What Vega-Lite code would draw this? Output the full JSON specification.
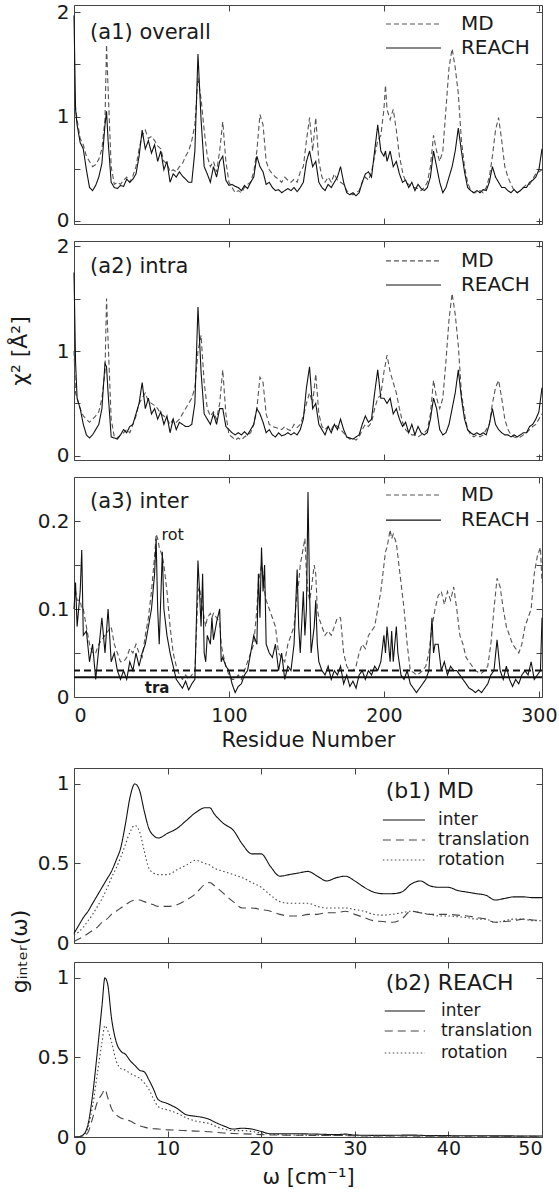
{
"$schema": "https://vega.github.io/schema/vega-lite/v6.json",
"padding": {"left": 7, "top": 1, "right": 0, "bottom": 0},
"config": {
 "font": "DejaVu Sans",
 "view": {"stroke": "#444", "strokeWidth": 1},
 "axis": {"grid": false, "domain": false, "tickSize": -6, "tickColor": "#444", "tickWidth": 1, "labelFont": "DejaVu Sans", "labelFontSize": 20, "labelColor": "#1a1a1a", "labelPadding": 11, "titleFont": "DejaVu Sans", "titleFontSize": 21, "titleFontWeight": "normal", "titleColor": "#1a1a1a"},
 "text": {"font": "DejaVu Sans", "color": "#1a1a1a", "align": "left", "baseline": "middle"}
},
"datasets": {
 "A1": [
{"x":0,"MD":1.07,"REACH":1.97},{"x":1,"MD":1.09,"REACH":1.07},{"x":2,"MD":0.97,"REACH":0.92},{"x":4,"MD":0.79,"REACH":0.75},{"x":6,"MD":0.73,"REACH":0.69},{"x":8,"MD":0.62,"REACH":0.49},{"x":10,"MD":0.57,"REACH":0.32},{"x":12,"MD":0.52,"REACH":0.29},{"x":14,"MD":0.54,"REACH":0.34},{"x":16,"MD":0.59,"REACH":0.42},{"x":18,"MD":0.69,"REACH":0.55},{"x":20,"MD":0.97,"REACH":0.92},{"x":21,"MD":1.69,"REACH":1.05},{"x":22,"MD":1.27,"REACH":0.77},{"x":24,"MD":0.52,"REACH":0.37},{"x":26,"MD":0.35,"REACH":0.32},{"x":28,"MD":0.37,"REACH":0.31},{"x":30,"MD":0.35,"REACH":0.34},{"x":32,"MD":0.39,"REACH":0.33},{"x":34,"MD":0.42,"REACH":0.4},{"x":36,"MD":0.37,"REACH":0.37},{"x":38,"MD":0.43,"REACH":0.4},{"x":40,"MD":0.52,"REACH":0.45},{"x":42,"MD":0.69,"REACH":0.62},{"x":44,"MD":0.82,"REACH":0.87},{"x":46,"MD":0.87,"REACH":0.69},{"x":48,"MD":0.79,"REACH":0.77},{"x":50,"MD":0.81,"REACH":0.65},{"x":52,"MD":0.77,"REACH":0.73},{"x":54,"MD":0.72,"REACH":0.57},{"x":56,"MD":0.69,"REACH":0.67},{"x":58,"MD":0.57,"REACH":0.49},{"x":60,"MD":0.55,"REACH":0.57},{"x":62,"MD":0.47,"REACH":0.37},{"x":64,"MD":0.49,"REACH":0.45},{"x":66,"MD":0.47,"REACH":0.42},{"x":68,"MD":0.52,"REACH":0.47},{"x":70,"MD":0.55,"REACH":0.43},{"x":72,"MD":0.62,"REACH":0.4},{"x":74,"MD":0.67,"REACH":0.37},{"x":76,"MD":0.77,"REACH":0.37},{"x":78,"MD":0.92,"REACH":0.67},{"x":80,"MD":1.37,"REACH":1.6},{"x":82,"MD":1.17,"REACH":0.97},{"x":84,"MD":0.87,"REACH":0.52},{"x":86,"MD":0.62,"REACH":0.45},{"x":88,"MD":0.52,"REACH":0.37},{"x":90,"MD":0.57,"REACH":0.52},{"x":92,"MD":0.47,"REACH":0.42},{"x":94,"MD":0.67,"REACH":0.57},{"x":96,"MD":0.95,"REACH":0.62},{"x":98,"MD":0.57,"REACH":0.39},{"x":100,"MD":0.37,"REACH":0.34},{"x":102,"MD":0.32,"REACH":0.35},{"x":104,"MD":0.27,"REACH":0.33},{"x":106,"MD":0.29,"REACH":0.32},{"x":108,"MD":0.27,"REACH":0.29},{"x":110,"MD":0.32,"REACH":0.34},{"x":112,"MD":0.35,"REACH":0.31},{"x":114,"MD":0.37,"REACH":0.37},{"x":116,"MD":0.47,"REACH":0.42},{"x":118,"MD":0.67,"REACH":0.62},{"x":120,"MD":1.02,"REACH":0.52},{"x":122,"MD":0.92,"REACH":0.47},{"x":124,"MD":0.57,"REACH":0.35},{"x":126,"MD":0.49,"REACH":0.37},{"x":128,"MD":0.45,"REACH":0.32},{"x":130,"MD":0.42,"REACH":0.29},{"x":132,"MD":0.4,"REACH":0.3},{"x":134,"MD":0.37,"REACH":0.27},{"x":136,"MD":0.42,"REACH":0.29},{"x":138,"MD":0.39,"REACH":0.31},{"x":140,"MD":0.37,"REACH":0.29},{"x":142,"MD":0.4,"REACH":0.32},{"x":144,"MD":0.37,"REACH":0.28},{"x":146,"MD":0.47,"REACH":0.32},{"x":148,"MD":0.52,"REACH":0.37},{"x":150,"MD":0.77,"REACH":0.57},{"x":152,"MD":0.99,"REACH":0.67},{"x":154,"MD":0.67,"REACH":0.52},{"x":156,"MD":0.99,"REACH":0.57},{"x":158,"MD":0.57,"REACH":0.37},{"x":160,"MD":0.42,"REACH":0.32},{"x":162,"MD":0.37,"REACH":0.29},{"x":164,"MD":0.42,"REACH":0.35},{"x":166,"MD":0.37,"REACH":0.32},{"x":168,"MD":0.45,"REACH":0.37},{"x":170,"MD":0.39,"REACH":0.42},{"x":172,"MD":0.37,"REACH":0.52},{"x":174,"MD":0.35,"REACH":0.37},{"x":176,"MD":0.29,"REACH":0.27},{"x":178,"MD":0.27,"REACH":0.25},{"x":180,"MD":0.25,"REACH":0.27},{"x":182,"MD":0.27,"REACH":0.24},{"x":184,"MD":0.29,"REACH":0.27},{"x":186,"MD":0.37,"REACH":0.37},{"x":188,"MD":0.42,"REACH":0.45},{"x":190,"MD":0.39,"REACH":0.47},{"x":192,"MD":0.47,"REACH":0.42},{"x":194,"MD":0.62,"REACH":0.67},{"x":196,"MD":0.77,"REACH":0.92},{"x":198,"MD":0.82,"REACH":0.67},{"x":200,"MD":1.07,"REACH":0.62},{"x":201,"MD":1.3,"REACH":0.67},{"x":202,"MD":1.07,"REACH":0.57},{"x":204,"MD":0.97,"REACH":0.67},{"x":206,"MD":1.07,"REACH":0.52},{"x":208,"MD":0.87,"REACH":0.57},{"x":210,"MD":0.62,"REACH":0.45},{"x":212,"MD":0.47,"REACH":0.37},{"x":214,"MD":0.37,"REACH":0.39},{"x":216,"MD":0.35,"REACH":0.32},{"x":218,"MD":0.32,"REACH":0.37},{"x":220,"MD":0.32,"REACH":0.29},{"x":222,"MD":0.31,"REACH":0.35},{"x":224,"MD":0.29,"REACH":0.31},{"x":226,"MD":0.32,"REACH":0.29},{"x":228,"MD":0.37,"REACH":0.32},{"x":230,"MD":0.52,"REACH":0.42},{"x":232,"MD":0.82,"REACH":0.67},{"x":234,"MD":0.67,"REACH":0.52},{"x":236,"MD":0.57,"REACH":0.37},{"x":238,"MD":0.67,"REACH":0.27},{"x":240,"MD":1.07,"REACH":0.32},{"x":242,"MD":1.47,"REACH":0.42},{"x":244,"MD":1.65,"REACH":0.52},{"x":246,"MD":1.47,"REACH":0.67},{"x":248,"MD":1.22,"REACH":0.89},{"x":250,"MD":0.77,"REACH":0.67},{"x":252,"MD":0.52,"REACH":0.47},{"x":254,"MD":0.37,"REACH":0.32},{"x":256,"MD":0.29,"REACH":0.29},{"x":258,"MD":0.27,"REACH":0.27},{"x":260,"MD":0.27,"REACH":0.29},{"x":262,"MD":0.29,"REACH":0.27},{"x":264,"MD":0.27,"REACH":0.3},{"x":266,"MD":0.32,"REACH":0.29},{"x":268,"MD":0.42,"REACH":0.37},{"x":270,"MD":0.62,"REACH":0.52},{"x":272,"MD":0.87,"REACH":0.42},{"x":274,"MD":0.99,"REACH":0.37},{"x":276,"MD":0.77,"REACH":0.32},{"x":278,"MD":0.52,"REACH":0.32},{"x":280,"MD":0.42,"REACH":0.29},{"x":282,"MD":0.35,"REACH":0.27},{"x":284,"MD":0.29,"REACH":0.3},{"x":286,"MD":0.27,"REACH":0.27},{"x":288,"MD":0.29,"REACH":0.29},{"x":290,"MD":0.32,"REACH":0.32},{"x":292,"MD":0.35,"REACH":0.32},{"x":294,"MD":0.35,"REACH":0.37},{"x":296,"MD":0.4,"REACH":0.39},{"x":298,"MD":0.45,"REACH":0.42},{"x":300,"MD":0.47,"REACH":0.49},{"x":302,"MD":0.49,"REACH":0.69}
 ],
 "A2": [
{"x":0,"MD":1.0,"REACH":1.75},{"x":1,"MD":0.6,"REACH":0.9},{"x":2,"MD":0.55,"REACH":0.55},{"x":4,"MD":0.45,"REACH":0.45},{"x":6,"MD":0.38,"REACH":0.3},{"x":8,"MD":0.35,"REACH":0.2},{"x":10,"MD":0.32,"REACH":0.17},{"x":12,"MD":0.35,"REACH":0.2},{"x":14,"MD":0.38,"REACH":0.25},{"x":16,"MD":0.42,"REACH":0.3},{"x":18,"MD":0.55,"REACH":0.45},{"x":20,"MD":0.8,"REACH":0.88},{"x":21,"MD":1.5,"REACH":0.85},{"x":22,"MD":1.1,"REACH":0.6},{"x":24,"MD":0.35,"REACH":0.18},{"x":26,"MD":0.18,"REACH":0.17},{"x":28,"MD":0.17,"REACH":0.16},{"x":30,"MD":0.2,"REACH":0.2},{"x":32,"MD":0.22,"REACH":0.25},{"x":34,"MD":0.25,"REACH":0.22},{"x":36,"MD":0.22,"REACH":0.28},{"x":38,"MD":0.3,"REACH":0.3},{"x":40,"MD":0.38,"REACH":0.4},{"x":42,"MD":0.5,"REACH":0.5},{"x":44,"MD":0.55,"REACH":0.7},{"x":46,"MD":0.6,"REACH":0.45},{"x":48,"MD":0.52,"REACH":0.55},{"x":50,"MD":0.5,"REACH":0.4},{"x":52,"MD":0.48,"REACH":0.45},{"x":54,"MD":0.45,"REACH":0.35},{"x":56,"MD":0.4,"REACH":0.42},{"x":58,"MD":0.38,"REACH":0.3},{"x":60,"MD":0.35,"REACH":0.38},{"x":62,"MD":0.3,"REACH":0.22},{"x":64,"MD":0.35,"REACH":0.35},{"x":66,"MD":0.32,"REACH":0.25},{"x":68,"MD":0.35,"REACH":0.32},{"x":70,"MD":0.4,"REACH":0.3},{"x":72,"MD":0.45,"REACH":0.28},{"x":74,"MD":0.5,"REACH":0.28},{"x":76,"MD":0.55,"REACH":0.3},{"x":78,"MD":0.65,"REACH":0.5},{"x":80,"MD":1.0,"REACH":1.42},{"x":82,"MD":1.15,"REACH":0.8},{"x":84,"MD":0.7,"REACH":0.4},{"x":86,"MD":0.45,"REACH":0.35},{"x":88,"MD":0.38,"REACH":0.3},{"x":90,"MD":0.42,"REACH":0.4},{"x":92,"MD":0.35,"REACH":0.3},{"x":94,"MD":0.5,"REACH":0.45},{"x":96,"MD":0.82,"REACH":0.45},{"x":98,"MD":0.4,"REACH":0.28},{"x":100,"MD":0.2,"REACH":0.25},{"x":102,"MD":0.18,"REACH":0.22},{"x":104,"MD":0.15,"REACH":0.2},{"x":106,"MD":0.17,"REACH":0.22},{"x":108,"MD":0.15,"REACH":0.2},{"x":110,"MD":0.18,"REACH":0.23},{"x":112,"MD":0.2,"REACH":0.2},{"x":114,"MD":0.22,"REACH":0.25},{"x":116,"MD":0.3,"REACH":0.3},{"x":118,"MD":0.45,"REACH":0.45},{"x":120,"MD":0.75,"REACH":0.4},{"x":122,"MD":0.7,"REACH":0.32},{"x":124,"MD":0.4,"REACH":0.22},{"x":126,"MD":0.3,"REACH":0.25},{"x":128,"MD":0.28,"REACH":0.2},{"x":130,"MD":0.27,"REACH":0.18},{"x":132,"MD":0.26,"REACH":0.22},{"x":134,"MD":0.25,"REACH":0.19},{"x":136,"MD":0.28,"REACH":0.2},{"x":138,"MD":0.25,"REACH":0.22},{"x":140,"MD":0.24,"REACH":0.2},{"x":142,"MD":0.3,"REACH":0.22},{"x":144,"MD":0.27,"REACH":0.2},{"x":146,"MD":0.3,"REACH":0.25},{"x":148,"MD":0.38,"REACH":0.35},{"x":150,"MD":0.5,"REACH":0.65},{"x":152,"MD":0.6,"REACH":0.85},{"x":154,"MD":0.5,"REACH":0.45},{"x":156,"MD":0.78,"REACH":0.5},{"x":158,"MD":0.4,"REACH":0.3},{"x":160,"MD":0.28,"REACH":0.25},{"x":162,"MD":0.25,"REACH":0.2},{"x":164,"MD":0.28,"REACH":0.28},{"x":166,"MD":0.25,"REACH":0.22},{"x":168,"MD":0.3,"REACH":0.3},{"x":170,"MD":0.28,"REACH":0.25},{"x":172,"MD":0.25,"REACH":0.35},{"x":174,"MD":0.22,"REACH":0.25},{"x":176,"MD":0.18,"REACH":0.18},{"x":178,"MD":0.16,"REACH":0.17},{"x":180,"MD":0.17,"REACH":0.16},{"x":182,"MD":0.15,"REACH":0.18},{"x":184,"MD":0.18,"REACH":0.2},{"x":186,"MD":0.25,"REACH":0.3},{"x":188,"MD":0.3,"REACH":0.38},{"x":190,"MD":0.28,"REACH":0.32},{"x":192,"MD":0.32,"REACH":0.35},{"x":194,"MD":0.45,"REACH":0.6},{"x":196,"MD":0.55,"REACH":0.82},{"x":198,"MD":0.58,"REACH":0.55},{"x":200,"MD":0.8,"REACH":0.55},{"x":202,"MD":0.96,"REACH":0.5},{"x":204,"MD":0.8,"REACH":0.55},{"x":206,"MD":0.7,"REACH":0.4},{"x":208,"MD":0.6,"REACH":0.45},{"x":210,"MD":0.45,"REACH":0.35},{"x":212,"MD":0.32,"REACH":0.28},{"x":214,"MD":0.25,"REACH":0.32},{"x":216,"MD":0.22,"REACH":0.22},{"x":218,"MD":0.2,"REACH":0.3},{"x":220,"MD":0.2,"REACH":0.2},{"x":222,"MD":0.18,"REACH":0.28},{"x":224,"MD":0.2,"REACH":0.22},{"x":226,"MD":0.22,"REACH":0.2},{"x":228,"MD":0.25,"REACH":0.22},{"x":230,"MD":0.4,"REACH":0.35},{"x":232,"MD":0.72,"REACH":0.55},{"x":234,"MD":0.55,"REACH":0.45},{"x":236,"MD":0.45,"REACH":0.25},{"x":238,"MD":0.55,"REACH":0.2},{"x":240,"MD":0.9,"REACH":0.22},{"x":242,"MD":1.3,"REACH":0.3},{"x":244,"MD":1.55,"REACH":0.45},{"x":246,"MD":1.35,"REACH":0.6},{"x":248,"MD":1.05,"REACH":0.82},{"x":250,"MD":0.6,"REACH":0.55},{"x":252,"MD":0.4,"REACH":0.35},{"x":254,"MD":0.25,"REACH":0.25},{"x":256,"MD":0.2,"REACH":0.22},{"x":258,"MD":0.18,"REACH":0.2},{"x":260,"MD":0.2,"REACH":0.22},{"x":262,"MD":0.18,"REACH":0.2},{"x":264,"MD":0.2,"REACH":0.22},{"x":266,"MD":0.25,"REACH":0.2},{"x":268,"MD":0.3,"REACH":0.3},{"x":270,"MD":0.5,"REACH":0.45},{"x":272,"MD":0.65,"REACH":0.3},{"x":274,"MD":0.72,"REACH":0.25},{"x":276,"MD":0.55,"REACH":0.22},{"x":278,"MD":0.35,"REACH":0.2},{"x":280,"MD":0.25,"REACH":0.2},{"x":282,"MD":0.2,"REACH":0.18},{"x":284,"MD":0.18,"REACH":0.2},{"x":286,"MD":0.17,"REACH":0.18},{"x":288,"MD":0.18,"REACH":0.2},{"x":290,"MD":0.2,"REACH":0.22},{"x":292,"MD":0.22,"REACH":0.22},{"x":294,"MD":0.25,"REACH":0.28},{"x":296,"MD":0.28,"REACH":0.3},{"x":298,"MD":0.3,"REACH":0.35},{"x":300,"MD":0.35,"REACH":0.42},{"x":302,"MD":0.4,"REACH":0.65}
 ],
 "A3": [
{"x":0,"MD":0.12,"REACH":0.1},{"x":1,"MD":0.12,"REACH":0.13},{"x":2,"MD":0.11,"REACH":0.08},{"x":4,"MD":0.11,"REACH":0.12},{"x":5,"MD":0.1,"REACH":0.167},{"x":6,"MD":0.1,"REACH":0.07},{"x":8,"MD":0.08,"REACH":0.075},{"x":10,"MD":0.06,"REACH":0.04},{"x":12,"MD":0.05,"REACH":0.06},{"x":14,"MD":0.05,"REACH":0.02},{"x":16,"MD":0.06,"REACH":0.055},{"x":18,"MD":0.065,"REACH":0.09},{"x":20,"MD":0.07,"REACH":0.05},{"x":22,"MD":0.075,"REACH":0.1},{"x":24,"MD":0.08,"REACH":0.04},{"x":26,"MD":0.06,"REACH":0.05},{"x":28,"MD":0.05,"REACH":0.03},{"x":30,"MD":0.04,"REACH":0.02},{"x":32,"MD":0.04,"REACH":0.03},{"x":34,"MD":0.045,"REACH":0.02},{"x":36,"MD":0.055,"REACH":0.04},{"x":38,"MD":0.05,"REACH":0.03},{"x":40,"MD":0.06,"REACH":0.05},{"x":42,"MD":0.05,"REACH":0.035},{"x":44,"MD":0.045,"REACH":0.05},{"x":46,"MD":0.07,"REACH":0.06},{"x":48,"MD":0.09,"REACH":0.08},{"x":50,"MD":0.12,"REACH":0.1},{"x":52,"MD":0.16,"REACH":0.14},{"x":53,"MD":0.185,"REACH":0.18},{"x":54,"MD":0.18,"REACH":0.1},{"x":55,"MD":0.17,"REACH":0.06},{"x":57,"MD":0.16,"REACH":0.165},{"x":58,"MD":0.15,"REACH":0.1},{"x":60,"MD":0.12,"REACH":0.07},{"x":62,"MD":0.08,"REACH":0.05},{"x":64,"MD":0.05,"REACH":0.035},{"x":66,"MD":0.035,"REACH":0.02},{"x":68,"MD":0.025,"REACH":0.015},{"x":70,"MD":0.02,"REACH":0.01},{"x":72,"MD":0.025,"REACH":0.018},{"x":74,"MD":0.02,"REACH":0.008},{"x":76,"MD":0.025,"REACH":0.015},{"x":78,"MD":0.03,"REACH":0.02},{"x":80,"MD":0.12,"REACH":0.155},{"x":81,"MD":0.125,"REACH":0.12},{"x":82,"MD":0.11,"REACH":0.08},{"x":83,"MD":0.1,"REACH":0.14},{"x":84,"MD":0.09,"REACH":0.05},{"x":85,"MD":0.08,"REACH":0.04},{"x":86,"MD":0.09,"REACH":0.07},{"x":88,"MD":0.095,"REACH":0.06},{"x":89,"MD":0.09,"REACH":0.09},{"x":90,"MD":0.095,"REACH":0.065},{"x":92,"MD":0.09,"REACH":0.085},{"x":94,"MD":0.085,"REACH":0.1},{"x":95,"MD":0.06,"REACH":0.04},{"x":96,"MD":0.05,"REACH":0.045},{"x":98,"MD":0.035,"REACH":0.035},{"x":100,"MD":0.025,"REACH":0.03},{"x":102,"MD":0.02,"REACH":0.015},{"x":104,"MD":0.02,"REACH":0.005},{"x":106,"MD":0.025,"REACH":0.012},{"x":108,"MD":0.02,"REACH":0.015},{"x":110,"MD":0.03,"REACH":0.025},{"x":112,"MD":0.04,"REACH":0.03},{"x":114,"MD":0.05,"REACH":0.05},{"x":116,"MD":0.06,"REACH":0.07},{"x":118,"MD":0.1,"REACH":0.06},{"x":119,"MD":0.13,"REACH":0.14},{"x":120,"MD":0.14,"REACH":0.09},{"x":121,"MD":0.15,"REACH":0.17},{"x":122,"MD":0.14,"REACH":0.12},{"x":123,"MD":0.12,"REACH":0.15},{"x":124,"MD":0.11,"REACH":0.06},{"x":126,"MD":0.1,"REACH":0.05},{"x":128,"MD":0.09,"REACH":0.045},{"x":130,"MD":0.08,"REACH":0.06},{"x":132,"MD":0.05,"REACH":0.03},{"x":134,"MD":0.045,"REACH":0.05},{"x":136,"MD":0.04,"REACH":0.02},{"x":138,"MD":0.06,"REACH":0.035},{"x":140,"MD":0.07,"REACH":0.03},{"x":142,"MD":0.08,"REACH":0.06},{"x":144,"MD":0.12,"REACH":0.145},{"x":145,"MD":0.13,"REACH":0.08},{"x":146,"MD":0.15,"REACH":0.05},{"x":148,"MD":0.17,"REACH":0.12},{"x":149,"MD":0.18,"REACH":0.07},{"x":150,"MD":0.14,"REACH":0.1},{"x":151,"MD":0.12,"REACH":0.233},{"x":152,"MD":0.11,"REACH":0.12},{"x":153,"MD":0.12,"REACH":0.05},{"x":155,"MD":0.15,"REACH":0.08},{"x":156,"MD":0.14,"REACH":0.11},{"x":157,"MD":0.1,"REACH":0.06},{"x":158,"MD":0.09,"REACH":0.04},{"x":160,"MD":0.08,"REACH":0.03},{"x":162,"MD":0.07,"REACH":0.025},{"x":164,"MD":0.075,"REACH":0.035},{"x":166,"MD":0.07,"REACH":0.02},{"x":168,"MD":0.08,"REACH":0.03},{"x":170,"MD":0.09,"REACH":0.025},{"x":172,"MD":0.09,"REACH":0.035},{"x":174,"MD":0.05,"REACH":0.015},{"x":176,"MD":0.035,"REACH":0.025},{"x":178,"MD":0.03,"REACH":0.012},{"x":180,"MD":0.03,"REACH":0.018},{"x":182,"MD":0.035,"REACH":0.01},{"x":184,"MD":0.05,"REACH":0.025},{"x":186,"MD":0.06,"REACH":0.03},{"x":188,"MD":0.055,"REACH":0.02},{"x":190,"MD":0.07,"REACH":0.03},{"x":192,"MD":0.075,"REACH":0.025},{"x":194,"MD":0.08,"REACH":0.035},{"x":196,"MD":0.1,"REACH":0.03},{"x":198,"MD":0.12,"REACH":0.04},{"x":200,"MD":0.15,"REACH":0.07},{"x":201,"MD":0.165,"REACH":0.05},{"x":202,"MD":0.17,"REACH":0.08},{"x":204,"MD":0.19,"REACH":0.04},{"x":205,"MD":0.18,"REACH":0.075},{"x":206,"MD":0.185,"REACH":0.04},{"x":208,"MD":0.175,"REACH":0.08},{"x":209,"MD":0.16,"REACH":0.05},{"x":211,"MD":0.13,"REACH":0.025},{"x":213,"MD":0.1,"REACH":0.02},{"x":215,"MD":0.06,"REACH":0.03},{"x":217,"MD":0.03,"REACH":0.015},{"x":219,"MD":0.028,"REACH":0.01},{"x":221,"MD":0.025,"REACH":0.005},{"x":223,"MD":0.027,"REACH":0.01},{"x":225,"MD":0.03,"REACH":0.015},{"x":227,"MD":0.035,"REACH":0.02},{"x":229,"MD":0.05,"REACH":0.03},{"x":231,"MD":0.08,"REACH":0.09},{"x":232,"MD":0.09,"REACH":0.05},{"x":233,"MD":0.1,"REACH":0.06},{"x":235,"MD":0.115,"REACH":0.06},{"x":237,"MD":0.12,"REACH":0.03},{"x":239,"MD":0.105,"REACH":0.04},{"x":241,"MD":0.12,"REACH":0.025},{"x":243,"MD":0.11,"REACH":0.035},{"x":245,"MD":0.125,"REACH":0.03},{"x":247,"MD":0.1,"REACH":0.03},{"x":249,"MD":0.07,"REACH":0.025},{"x":251,"MD":0.06,"REACH":0.02},{"x":253,"MD":0.045,"REACH":0.015},{"x":255,"MD":0.04,"REACH":0.01},{"x":257,"MD":0.035,"REACH":0.008},{"x":259,"MD":0.03,"REACH":0.005},{"x":261,"MD":0.028,"REACH":0.008},{"x":263,"MD":0.027,"REACH":0.005},{"x":265,"MD":0.03,"REACH":0.01},{"x":267,"MD":0.035,"REACH":0.015},{"x":269,"MD":0.06,"REACH":0.025},{"x":271,"MD":0.1,"REACH":0.03},{"x":273,"MD":0.135,"REACH":0.065},{"x":275,"MD":0.125,"REACH":0.03},{"x":277,"MD":0.1,"REACH":0.02},{"x":279,"MD":0.08,"REACH":0.035},{"x":281,"MD":0.07,"REACH":0.02},{"x":283,"MD":0.06,"REACH":0.012},{"x":285,"MD":0.055,"REACH":0.02},{"x":287,"MD":0.05,"REACH":0.015},{"x":289,"MD":0.06,"REACH":0.025},{"x":291,"MD":0.08,"REACH":0.03},{"x":293,"MD":0.09,"REACH":0.025},{"x":295,"MD":0.1,"REACH":0.04},{"x":297,"MD":0.14,"REACH":0.02},{"x":299,"MD":0.16,"REACH":0.025},{"x":301,"MD":0.17,"REACH":0.03},{"x":302,"MD":0.13,"REACH":0.09}
 ],
 "B1": [
{"w":0,"inter":0.06,"translation":0.01,"rotation":0.05},{"w":0.5,"inter":0.11,"translation":0.025,"rotation":0.07},{"w":1,"inter":0.16,"translation":0.04,"rotation":0.1},{"w":1.5,"inter":0.2,"translation":0.06,"rotation":0.14},{"w":2,"inter":0.25,"translation":0.08,"rotation":0.18},{"w":2.5,"inter":0.3,"translation":0.1,"rotation":0.23},{"w":3,"inter":0.35,"translation":0.13,"rotation":0.28},{"w":3.5,"inter":0.4,"translation":0.15,"rotation":0.34},{"w":4,"inter":0.45,"translation":0.18,"rotation":0.41},{"w":4.5,"inter":0.52,"translation":0.2,"rotation":0.47},{"w":5,"inter":0.6,"translation":0.22,"rotation":0.54},{"w":5.5,"inter":0.75,"translation":0.24,"rotation":0.62},{"w":6,"inter":0.92,"translation":0.26,"rotation":0.7},{"w":6.5,"inter":1.0,"translation":0.27,"rotation":0.74},{"w":7,"inter":0.96,"translation":0.27,"rotation":0.7},{"w":7.5,"inter":0.83,"translation":0.26,"rotation":0.58},{"w":8,"inter":0.72,"translation":0.25,"rotation":0.47},{"w":8.5,"inter":0.675,"translation":0.24,"rotation":0.44},{"w":9,"inter":0.66,"translation":0.23,"rotation":0.43},{"w":10,"inter":0.69,"translation":0.23,"rotation":0.43},{"w":11,"inter":0.72,"translation":0.24,"rotation":0.46},{"w":12,"inter":0.77,"translation":0.27,"rotation":0.49},{"w":13,"inter":0.82,"translation":0.31,"rotation":0.52},{"w":14,"inter":0.85,"translation":0.37,"rotation":0.5},{"w":14.5,"inter":0.85,"translation":0.38,"rotation":0.49},{"w":15,"inter":0.81,"translation":0.36,"rotation":0.47},{"w":16,"inter":0.75,"translation":0.31,"rotation":0.45},{"w":17,"inter":0.71,"translation":0.26,"rotation":0.43},{"w":18,"inter":0.62,"translation":0.22,"rotation":0.41},{"w":19,"inter":0.56,"translation":0.22,"rotation":0.38},{"w":20,"inter":0.56,"translation":0.21,"rotation":0.35},{"w":21,"inter":0.48,"translation":0.2,"rotation":0.3},{"w":22,"inter":0.42,"translation":0.18,"rotation":0.26},{"w":23,"inter":0.43,"translation":0.17,"rotation":0.25},{"w":24,"inter":0.44,"translation":0.17,"rotation":0.25},{"w":25,"inter":0.45,"translation":0.18,"rotation":0.25},{"w":26,"inter":0.42,"translation":0.18,"rotation":0.23},{"w":27,"inter":0.39,"translation":0.19,"rotation":0.22},{"w":28,"inter":0.41,"translation":0.19,"rotation":0.22},{"w":29,"inter":0.42,"translation":0.2,"rotation":0.22},{"w":30,"inter":0.39,"translation":0.18,"rotation":0.21},{"w":31,"inter":0.35,"translation":0.16,"rotation":0.2},{"w":32,"inter":0.32,"translation":0.14,"rotation":0.18},{"w":33,"inter":0.31,"translation":0.135,"rotation":0.175},{"w":34,"inter":0.31,"translation":0.13,"rotation":0.18},{"w":35,"inter":0.32,"translation":0.15,"rotation":0.19},{"w":36,"inter":0.37,"translation":0.2,"rotation":0.2},{"w":37,"inter":0.39,"translation":0.19,"rotation":0.19},{"w":38,"inter":0.36,"translation":0.18,"rotation":0.18},{"w":39,"inter":0.35,"translation":0.18,"rotation":0.17},{"w":40,"inter":0.35,"translation":0.18,"rotation":0.17},{"w":41,"inter":0.33,"translation":0.175,"rotation":0.165},{"w":42,"inter":0.32,"translation":0.17,"rotation":0.16},{"w":43,"inter":0.31,"translation":0.16,"rotation":0.15},{"w":44,"inter":0.3,"translation":0.15,"rotation":0.15},{"w":45,"inter":0.27,"translation":0.13,"rotation":0.13},{"w":46,"inter":0.28,"translation":0.135,"rotation":0.14},{"w":47,"inter":0.29,"translation":0.14,"rotation":0.15},{"w":48,"inter":0.29,"translation":0.15,"rotation":0.15},{"w":49,"inter":0.285,"translation":0.145,"rotation":0.14},{"w":50,"inter":0.285,"translation":0.14,"rotation":0.14}
 ],
 "B2": [
{"w":0,"inter":0,"translation":0,"rotation":0},{"w":0.5,"inter":0.002,"translation":0.001,"rotation":0.001},{"w":1,"inter":0.015,"translation":0.005,"rotation":0.01},{"w":1.5,"inter":0.08,"translation":0.03,"rotation":0.06},{"w":2,"inter":0.27,"translation":0.12,"rotation":0.2},{"w":2.5,"inter":0.54,"translation":0.22,"rotation":0.4},{"w":3,"inter":0.83,"translation":0.27,"rotation":0.6},{"w":3.3,"inter":1.0,"translation":0.3,"rotation":0.7},{"w":3.6,"inter":0.96,"translation":0.25,"rotation":0.67},{"w":4,"inter":0.75,"translation":0.18,"rotation":0.6},{"w":4.5,"inter":0.6,"translation":0.14,"rotation":0.48},{"w":5,"inter":0.54,"translation":0.12,"rotation":0.43},{"w":5.5,"inter":0.52,"translation":0.11,"rotation":0.42},{"w":6,"inter":0.48,"translation":0.1,"rotation":0.4},{"w":6.5,"inter":0.45,"translation":0.085,"rotation":0.385},{"w":7,"inter":0.42,"translation":0.07,"rotation":0.37},{"w":7.5,"inter":0.41,"translation":0.062,"rotation":0.34},{"w":8,"inter":0.36,"translation":0.055,"rotation":0.3},{"w":8.5,"inter":0.3,"translation":0.052,"rotation":0.24},{"w":9,"inter":0.235,"translation":0.05,"rotation":0.19},{"w":10,"inter":0.21,"translation":0.045,"rotation":0.17},{"w":11,"inter":0.18,"translation":0.043,"rotation":0.15},{"w":12,"inter":0.14,"translation":0.04,"rotation":0.12},{"w":13,"inter":0.13,"translation":0.037,"rotation":0.1},{"w":14,"inter":0.12,"translation":0.035,"rotation":0.09},{"w":14.5,"inter":0.11,"translation":0.033,"rotation":0.085},{"w":15,"inter":0.095,"translation":0.03,"rotation":0.07},{"w":16,"inter":0.07,"translation":0.025,"rotation":0.05},{"w":17,"inter":0.05,"translation":0.022,"rotation":0.04},{"w":18,"inter":0.055,"translation":0.02,"rotation":0.04},{"w":19,"inter":0.05,"translation":0.018,"rotation":0.035},{"w":20,"inter":0.035,"translation":0.015,"rotation":0.025},{"w":21,"inter":0.02,"translation":0.013,"rotation":0.018},{"w":22,"inter":0.02,"translation":0.012,"rotation":0.015},{"w":24,"inter":0.02,"translation":0.011,"rotation":0.012},{"w":26,"inter":0.018,"translation":0.01,"rotation":0.011},{"w":28,"inter":0.015,"translation":0.009,"rotation":0.01},{"w":29,"inter":0.018,"translation":0.009,"rotation":0.011},{"w":30,"inter":0.012,"translation":0.008,"rotation":0.008},{"w":33,"inter":0.01,"translation":0.006,"rotation":0.007},{"w":36,"inter":0.012,"translation":0.006,"rotation":0.008},{"w":38,"inter":0.009,"translation":0.005,"rotation":0.006},{"w":42,"inter":0.008,"translation":0.005,"rotation":0.006},{"w":46,"inter":0.007,"translation":0.004,"rotation":0.005},{"w":50,"inter":0.006,"translation":0.004,"rotation":0.005}
 ]
},
"spacing": 16,
"resolve": {"scale": {"color": "independent", "strokeDash": "independent", "x": "independent", "y": "independent"}},
"vconcat": [
 {
  "bounds": "flush",
  "spacing": 17,
  "resolve": {"scale": {"color": "independent", "strokeDash": "independent", "x": "independent", "y": "independent"}},
  "vconcat": [
   {
    "width": 468, "height": 219,
    "resolve": {"axis": {"x": "independent", "y": "independent"}},
    "layer": [
     {
      "data": {"name": "A1"},
      "transform": [{"fold": ["MD", "REACH"], "as": ["s", "v"]}],
      "mark": {"type": "line", "strokeWidth": 1.1},
      "encoding": {
       "x": {"field": "x", "type": "quantitative", "scale": {"domain": [0, 302], "nice": false, "zero": false}, "axis": {"values": [0, 100, 200, 300], "labels": false, "title": null}},
       "y": {"field": "v", "type": "quantitative", "scale": {"domain": [-0.03, 2.07], "nice": false, "zero": false}, "axis": {"values": [0, 0.5, 1, 1.5, 2], "labelExpr": "datum.value == 0 ? '0' : datum.value == 1 ? '1' : datum.value == 2 ? '2' : ''", "title": null}},
       "strokeDash": {"field": "s", "type": "nominal", "scale": {"domain": ["MD", "REACH"], "range": [[5, 3], [1, 0]]}, "legend": null},
       "color": {"field": "s", "type": "nominal", "scale": {"domain": ["MD", "REACH"], "range": ["#555555", "#111111"]}, "legend": null}
      }
     },
     {"data": {"values": [{}]}, "mark": {"type": "rule", "strokeDash": [5, 3], "color": "#555555", "strokeWidth": 1.1}, "encoding": {"x": {"datum": 201.3, "axis": null}, "x2": {"datum": 236.8}, "y": {"datum": 1.888, "axis": null}}},
     {"data": {"values": [{}]}, "mark": {"type": "rule", "color": "#111111", "strokeWidth": 1.1}, "encoding": {"x": {"datum": 201.3, "axis": null}, "x2": {"datum": 236.8}, "y": {"datum": 1.658, "axis": null}}},
     {"data": {"values": [{}]}, "mark": {"type": "text", "text": "MD", "fontSize": 20}, "encoding": {"x": {"datum": 249.7, "axis": null}, "y": {"datum": 1.888, "axis": null}}},
     {"data": {"values": [{}]}, "mark": {"type": "text", "text": "REACH", "fontSize": 20}, "encoding": {"x": {"datum": 249.7, "axis": null}, "y": {"datum": 1.658, "axis": null}}},
     {"data": {"values": [{}]}, "mark": {"type": "text", "text": "(a1) overall", "fontSize": 21}, "encoding": {"x": {"datum": 10.4, "axis": {"orient": "top", "values": [0, 100, 200, 300], "labels": false, "title": null}}, "y": {"datum": 1.8, "axis": {"orient": "right", "values": [0, 0.5, 1, 1.5, 2], "labels": false, "title": null}}}}
    ]
   },
   {
    "width": 468, "height": 219,
    "resolve": {"axis": {"x": "independent", "y": "independent"}},
    "layer": [
     {
      "data": {"name": "A2"},
      "transform": [{"fold": ["MD", "REACH"], "as": ["s", "v"]}],
      "mark": {"type": "line", "strokeWidth": 1.1},
      "encoding": {
       "x": {"field": "x", "type": "quantitative", "scale": {"domain": [0, 302], "nice": false, "zero": false}, "axis": {"values": [0, 100, 200, 300], "labels": false, "title": null}},
       "y": {"field": "v", "type": "quantitative", "scale": {"domain": [-0.04, 2.05], "nice": false, "zero": false}, "axis": {"values": [0, 0.5, 1, 1.5, 2], "labelExpr": "datum.value == 0 ? '0' : datum.value == 1 ? '1' : datum.value == 2 ? '2' : ''", "title": "χ² [Å²]", "titleFontSize": 22, "titleX": -43}},
       "strokeDash": {"field": "s", "type": "nominal", "scale": {"domain": ["MD", "REACH"], "range": [[5, 3], [1, 0]]}, "legend": null},
       "color": {"field": "s", "type": "nominal", "scale": {"domain": ["MD", "REACH"], "range": ["#555555", "#111111"]}, "legend": null}
      }
     },
     {"data": {"values": [{}]}, "mark": {"type": "rule", "strokeDash": [5, 3], "color": "#555555", "strokeWidth": 1.1}, "encoding": {"x": {"datum": 201.3, "axis": null}, "x2": {"datum": 236.8}, "y": {"datum": 1.86, "axis": null}}},
     {"data": {"values": [{}]}, "mark": {"type": "rule", "color": "#111111", "strokeWidth": 1.1}, "encoding": {"x": {"datum": 201.3, "axis": null}, "x2": {"datum": 236.8}, "y": {"datum": 1.63, "axis": null}}},
     {"data": {"values": [{}]}, "mark": {"type": "text", "text": "MD", "fontSize": 20}, "encoding": {"x": {"datum": 249.7, "axis": null}, "y": {"datum": 1.86, "axis": null}}},
     {"data": {"values": [{}]}, "mark": {"type": "text", "text": "REACH", "fontSize": 20}, "encoding": {"x": {"datum": 249.7, "axis": null}, "y": {"datum": 1.63, "axis": null}}},
     {"data": {"values": [{}]}, "mark": {"type": "text", "text": "(a2) intra", "fontSize": 21}, "encoding": {"x": {"datum": 10.4, "axis": {"orient": "top", "values": [0, 100, 200, 300], "labels": false, "title": null}}, "y": {"datum": 1.8, "axis": {"orient": "right", "values": [0, 0.5, 1, 1.5, 2], "labels": false, "title": null}}}}
    ]
   },
   {
    "width": 468, "height": 220,
    "resolve": {"axis": {"x": "independent", "y": "independent"}},
    "layer": [
     {
      "data": {"name": "A3"},
      "transform": [{"fold": ["MD", "REACH"], "as": ["s", "v"]}],
      "mark": {"type": "line", "strokeWidth": 1.1},
      "encoding": {
       "x": {"field": "x", "type": "quantitative", "scale": {"domain": [0, 302], "nice": false, "zero": false}, "axis": {"values": [0, 100, 200, 300], "labelFontSize": 19, "labelPadding": 15, "title": "Residue Number", "titlePadding": 4}},
       "y": {"field": "v", "type": "quantitative", "scale": {"domain": [0, 0.25], "nice": false, "zero": false}, "axis": {"values": [0, 0.05, 0.1, 0.15, 0.2], "labelExpr": "datum.value == 0 ? '0' : datum.value == 0.1 ? '0.1' : datum.value == 0.2 ? '0.2' : ''", "title": null}},
       "strokeDash": {"field": "s", "type": "nominal", "scale": {"domain": ["MD", "REACH"], "range": [[5, 3], [1, 0]]}, "legend": null},
       "color": {"field": "s", "type": "nominal", "scale": {"domain": ["MD", "REACH"], "range": ["#555555", "#111111"]}, "legend": null}
      }
     },
     {"data": {"values": [{"v": 0.03}]}, "mark": {"type": "rule", "strokeDash": [7, 4], "strokeWidth": 2, "color": "#111111"}, "encoding": {"y": {"field": "v", "type": "quantitative", "axis": null}}},
     {"data": {"values": [{"v": 0.0225}]}, "mark": {"type": "rule", "strokeWidth": 2, "color": "#111111"}, "encoding": {"y": {"field": "v", "type": "quantitative", "axis": null}}},
     {"data": {"values": [{}]}, "mark": {"type": "rule", "strokeDash": [5, 3], "color": "#555555", "strokeWidth": 1.1}, "encoding": {"x": {"datum": 201.3, "axis": null}, "x2": {"datum": 236.8}, "y": {"datum": 0.2295, "axis": null}}},
     {"data": {"values": [{}]}, "mark": {"type": "rule", "color": "#111111", "strokeWidth": 1.1}, "encoding": {"x": {"datum": 201.3, "axis": null}, "x2": {"datum": 236.8}, "y": {"datum": 0.201, "axis": null}}},
     {"data": {"values": [{}]}, "mark": {"type": "text", "text": "MD", "fontSize": 20}, "encoding": {"x": {"datum": 249.7, "axis": null}, "y": {"datum": 0.2295, "axis": null}}},
     {"data": {"values": [{}]}, "mark": {"type": "text", "text": "REACH", "fontSize": 20}, "encoding": {"x": {"datum": 249.7, "axis": null}, "y": {"datum": 0.201, "axis": null}}},
     {"data": {"values": [{}]}, "mark": {"type": "text", "text": "rot", "fontSize": 16}, "encoding": {"x": {"datum": 56.5, "axis": null}, "y": {"datum": 0.184, "axis": null}}},
     {"data": {"values": [{}]}, "mark": {"type": "text", "text": "tra", "fontSize": 15, "fontWeight": "bold", "align": "center"}, "encoding": {"x": {"datum": 53.6, "axis": null}, "y": {"datum": 0.0098, "axis": null}}},
     {"data": {"values": [{}]}, "mark": {"type": "text", "text": "(a3) inter", "fontSize": 21}, "encoding": {"x": {"datum": 10.4, "axis": {"orient": "top", "values": [0, 100, 200, 300], "labels": false, "title": null}}, "y": {"datum": 0.222, "axis": {"orient": "right", "values": [0, 0.05, 0.1, 0.15, 0.2], "labels": false, "title": null}}}}
    ]
   }
  ]
 },
 {
  "bounds": "flush",
  "spacing": 19,
  "resolve": {"scale": {"color": "independent", "strokeDash": "independent", "x": "independent", "y": "independent"}},
  "vconcat": [
   {
    "width": 468, "height": 175,
    "resolve": {"axis": {"x": "independent", "y": "independent"}},
    "layer": [
     {
      "data": {"name": "B1"},
      "transform": [{"fold": ["inter", "translation", "rotation"], "as": ["s", "v"]}],
      "mark": {"type": "line", "strokeWidth": 1.1, "interpolate": "monotone"},
      "encoding": {
       "x": {"field": "w", "type": "quantitative", "scale": {"domain": [0, 50], "nice": false, "zero": false}, "axis": {"values": [0, 10, 20, 30, 40, 50], "labels": false, "title": null}},
       "y": {"field": "v", "type": "quantitative", "scale": {"domain": [0, 1.1], "nice": false, "zero": false}, "axis": {"values": [0, 0.5, 1], "labelExpr": "datum.value == 0 ? '0' : datum.value == 0.5 ? '0.5' : '1'", "title": "gᵢₙₜₑᵣ(ω)", "titleFontSize": 22, "titleX": -43, "titleY": 183}},
       "strokeDash": {"field": "s", "type": "nominal", "scale": {"domain": ["inter", "translation", "rotation"], "range": [[1, 0], [8, 5], [1.5, 2.5]]}, "legend": null},
       "color": {"field": "s", "type": "nominal", "scale": {"domain": ["inter", "translation", "rotation"], "range": ["#111111", "#444444", "#444444"]}, "legend": null}
      }
     },
     {"data": {"values": [{}]}, "mark": {"type": "rule", "color": "#111111", "strokeWidth": 1.1}, "encoding": {"x": {"datum": 33.0, "axis": null}, "x2": {"datum": 37.5}, "y": {"datum": 0.773, "axis": null}}},
     {"data": {"values": [{}]}, "mark": {"type": "rule", "strokeDash": [8, 5], "color": "#444444", "strokeWidth": 1.1}, "encoding": {"x": {"datum": 33.0, "axis": null}, "x2": {"datum": 37.5}, "y": {"datum": 0.647, "axis": null}}},
     {"data": {"values": [{}]}, "mark": {"type": "rule", "strokeDash": [1.5, 2.5], "color": "#444444", "strokeWidth": 1.1}, "encoding": {"x": {"datum": 33.0, "axis": null}, "x2": {"datum": 37.5}, "y": {"datum": 0.522, "axis": null}}},
     {"data": {"values": [{}]}, "mark": {"type": "text", "text": "inter", "fontSize": 17}, "encoding": {"x": {"datum": 38.9, "axis": null}, "y": {"datum": 0.773, "axis": null}}},
     {"data": {"values": [{}]}, "mark": {"type": "text", "text": "translation", "fontSize": 17}, "encoding": {"x": {"datum": 38.9, "axis": null}, "y": {"datum": 0.647, "axis": null}}},
     {"data": {"values": [{}]}, "mark": {"type": "text", "text": "rotation", "fontSize": 17}, "encoding": {"x": {"datum": 38.9, "axis": null}, "y": {"datum": 0.522, "axis": null}}},
     {"data": {"values": [{}]}, "mark": {"type": "text", "text": "(b1)  MD", "fontSize": 22}, "encoding": {"x": {"datum": 33.3, "axis": {"orient": "top", "values": [0, 10, 20, 30, 40, 50], "labels": false, "title": null}}, "y": {"datum": 0.955, "axis": {"orient": "right", "values": [0, 0.5, 1], "labels": false, "title": null}}}}
    ]
   },
   {
    "width": 468, "height": 175,
    "resolve": {"axis": {"x": "independent", "y": "independent"}},
    "layer": [
     {
      "data": {"name": "B2"},
      "transform": [{"fold": ["inter", "translation", "rotation"], "as": ["s", "v"]}],
      "mark": {"type": "line", "strokeWidth": 1.1, "interpolate": "monotone"},
      "encoding": {
       "x": {"field": "w", "type": "quantitative", "scale": {"domain": [0, 50], "nice": false, "zero": false}, "axis": {"values": [0, 10, 20, 30, 40, 50], "labelFontSize": 19, "labelPadding": 8, "title": "ω [cm⁻¹]", "titlePadding": 8}},
       "y": {"field": "v", "type": "quantitative", "scale": {"domain": [0, 1.1], "nice": false, "zero": false}, "axis": {"values": [0, 0.5, 1], "labelExpr": "datum.value == 0 ? '0' : datum.value == 0.5 ? '0.5' : '1'", "title": null}},
       "strokeDash": {"field": "s", "type": "nominal", "scale": {"domain": ["inter", "translation", "rotation"], "range": [[1, 0], [8, 5], [1.5, 2.5]]}, "legend": null},
       "color": {"field": "s", "type": "nominal", "scale": {"domain": ["inter", "translation", "rotation"], "range": ["#111111", "#444444", "#444444"]}, "legend": null}
      }
     },
     {"data": {"values": [{}]}, "mark": {"type": "rule", "color": "#111111", "strokeWidth": 1.1}, "encoding": {"x": {"datum": 33.2, "axis": null}, "x2": {"datum": 37.5}, "y": {"datum": 0.792, "axis": null}}},
     {"data": {"values": [{}]}, "mark": {"type": "rule", "strokeDash": [8, 5], "color": "#444444", "strokeWidth": 1.1}, "encoding": {"x": {"datum": 33.2, "axis": null}, "x2": {"datum": 37.5}, "y": {"datum": 0.666, "axis": null}}},
     {"data": {"values": [{}]}, "mark": {"type": "rule", "strokeDash": [1.5, 2.5], "color": "#444444", "strokeWidth": 1.1}, "encoding": {"x": {"datum": 33.2, "axis": null}, "x2": {"datum": 37.5}, "y": {"datum": 0.528, "axis": null}}},
     {"data": {"values": [{}]}, "mark": {"type": "text", "text": "inter", "fontSize": 17}, "encoding": {"x": {"datum": 39.2, "axis": null}, "y": {"datum": 0.792, "axis": null}}},
     {"data": {"values": [{}]}, "mark": {"type": "text", "text": "translation", "fontSize": 17}, "encoding": {"x": {"datum": 39.2, "axis": null}, "y": {"datum": 0.666, "axis": null}}},
     {"data": {"values": [{}]}, "mark": {"type": "text", "text": "rotation", "fontSize": 17}, "encoding": {"x": {"datum": 39.2, "axis": null}, "y": {"datum": 0.528, "axis": null}}},
     {"data": {"values": [{}]}, "mark": {"type": "text", "text": "(b2) REACH", "fontSize": 22}, "encoding": {"x": {"datum": 33.3, "axis": {"orient": "top", "values": [0, 10, 20, 30, 40, 50], "labels": false, "title": null}}, "y": {"datum": 0.968, "axis": {"orient": "right", "values": [0, 0.5, 1], "labels": false, "title": null}}}}
    ]
   }
  ]
 }
]
}
